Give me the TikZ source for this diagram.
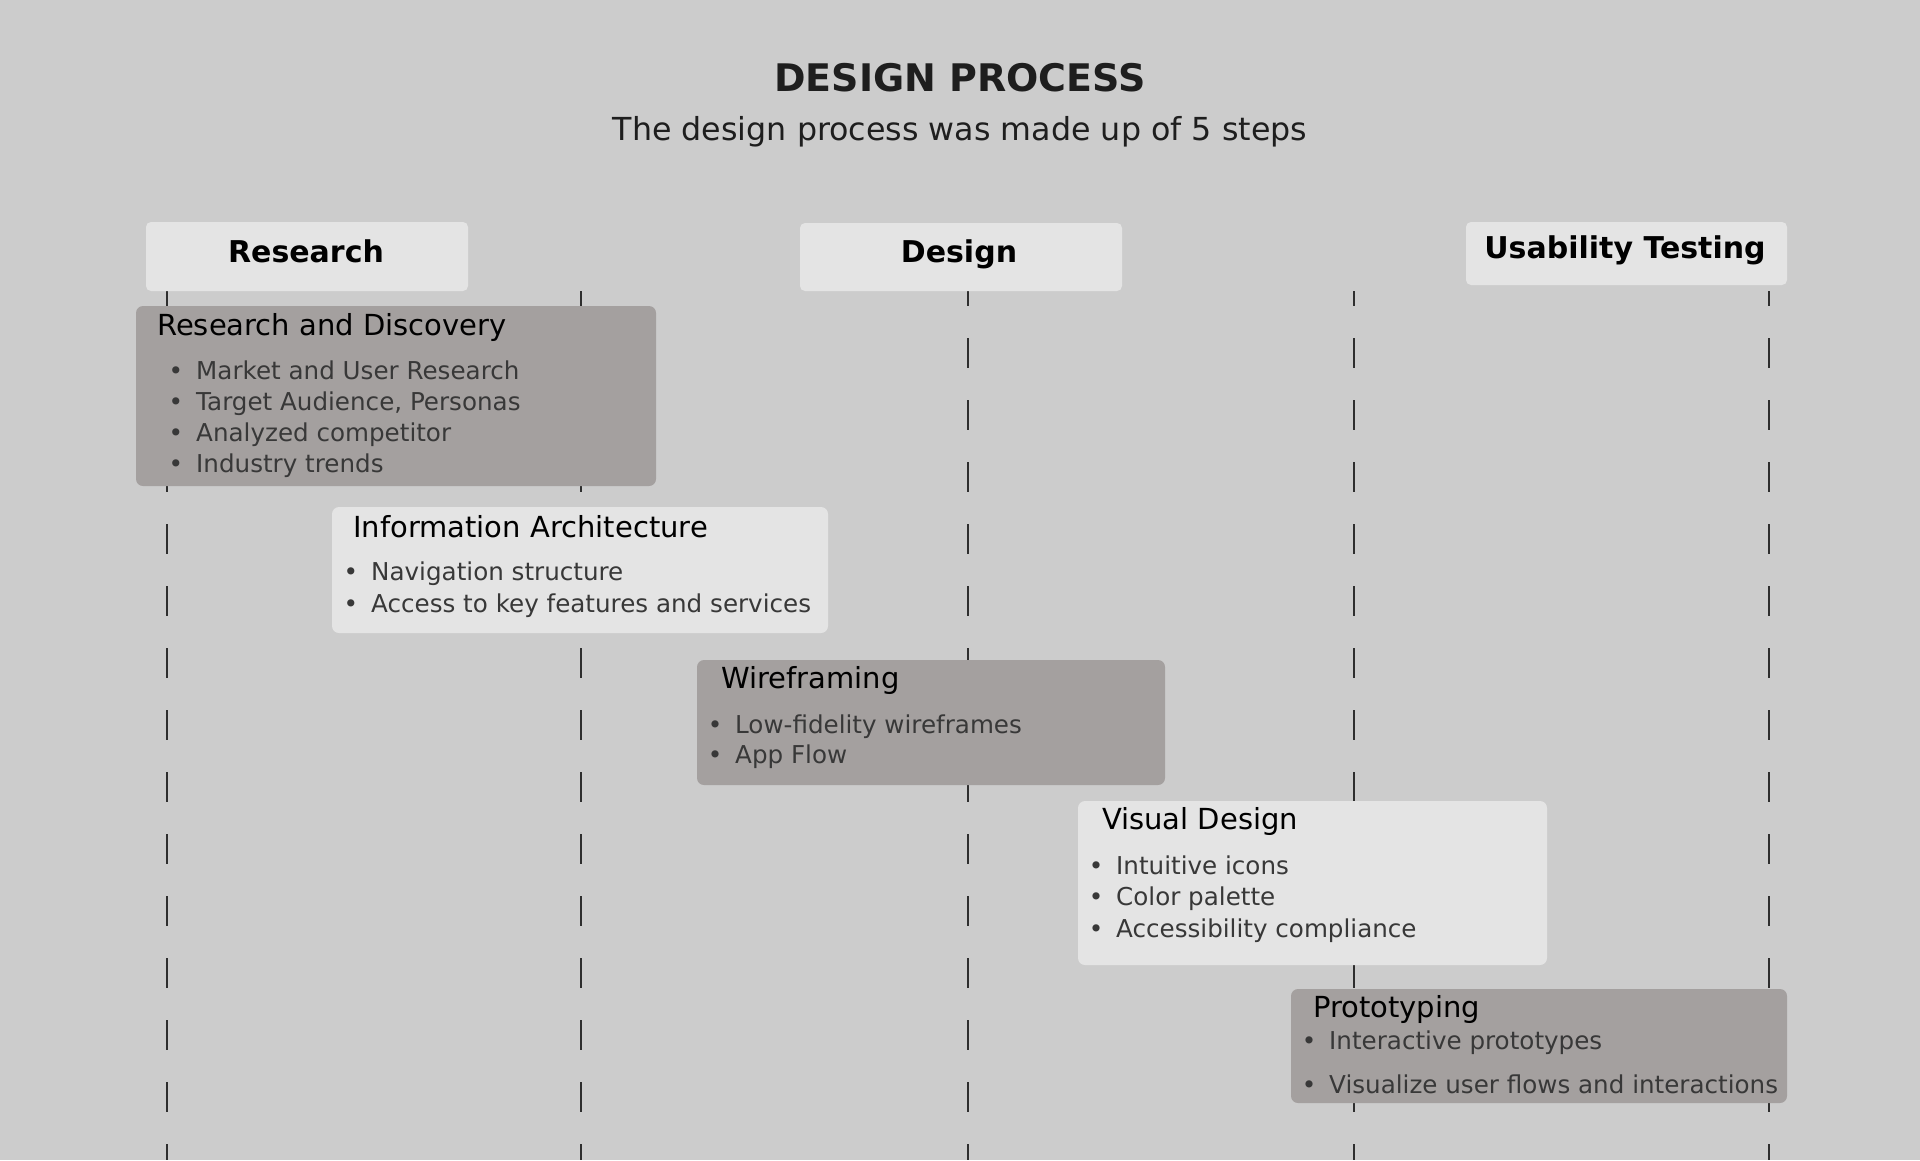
\documentclass[tikz,border=0pt]{standalone}
\usepackage{fontspec}
\setmainfont{DejaVu Sans}
\definecolor{bg}{HTML}{CCCCCC}
\definecolor{lite}{HTML}{E4E4E4}
\definecolor{dark}{HTML}{A4A09F}
\definecolor{ink}{HTML}{1E1E1E}
\definecolor{bul}{HTML}{383838}
\definecolor{dline}{HTML}{2E2E2E}
\begin{document}
\begin{tikzpicture}[x=1pt,y=-1pt,
  dashline/.style={draw=dline, line width=2pt, dash pattern=on 30pt off 32pt, dash phase=15pt},
  hdrbox/.style={fill=lite, rounded corners=5pt, inner sep=0pt},
  litebox/.style={fill=lite, rounded corners=7pt, inner sep=0pt},
  darkbox/.style={fill=dark, rounded corners=7pt, inner sep=0pt},
  hdrtext/.style={text=black, font=\fontsize{30}{34}\selectfont\bfseries, anchor=base, inner sep=0pt},
  boxtitle/.style={text=black, font=\fontsize{29}{33}\selectfont, anchor=base west, inner sep=0pt},
  bultext/.style={text=bul, font=\fontsize{24.6}{29}\selectfont, anchor=base west, inner sep=0pt},
  buldot/.style={text=bul, font=\fontsize{24.6}{29}\selectfont, anchor=base, inner sep=0pt}
]
\useasboundingbox[fill=bg] (0,0) rectangle (1920,1160);

% title
\node[text=ink, font=\fontsize{38}{44}\selectfont\bfseries, anchor=base, inner sep=0pt] (title) at (960,91.5) {DESIGN PROCESS};
\node[text=ink, font=\fontsize{31.7}{36}\selectfont, anchor=base, inner sep=0pt] (sub) at (960,140.5) {The design process was made up of 5 steps};

% dashed lines
\foreach \i/\x in {1/166.5,2/580.5,3/967.5,4/1354,5/1768.5}{
  \coordinate (t\i) at (\x,291);
  \coordinate (b\i) at (\x,1160);
  \draw[dashline] (t\i) -- (b\i);
}

% headers
\node[hdrbox, minimum width=322pt, minimum height=69pt] (hR) at (307,256.5) {};
\node[hdrtext] (hRt) at (306,262) {Research};
\node[hdrbox, minimum width=322pt, minimum height=68pt] (hD) at (961,257) {};
\node[hdrtext] (hDt) at (959,262) {Design};
\node[hdrbox, minimum width=321pt, minimum height=63pt] (hU) at (1626.5,253.5) {};
\node[hdrtext] (hUt) at (1625,258) {Usability Testing};

% box 1
\node[darkbox, minimum width=520pt, minimum height=180pt] (s1) at (396,396) {};
\node[boxtitle] (s1t) at (157,335) {Research and Discovery};
\foreach \j/\y/\t in {a/379/Market and User Research, b/410/{Target Audience, Personas}, c/441/Analyzed competitor, d/472/Industry trends}{
  \node[buldot] (s1\j d) at (176,\y) {•};
  \node[bultext] (s1\j) at (196,\y) {\t};
}

% box 2
\node[litebox, minimum width=496pt, minimum height=126pt] (s2) at (580,570) {};
\node[boxtitle] (s2t) at (353,537) {Information Architecture};
\foreach \j/\y/\t in {a/580/Navigation structure, b/612/Access to key features and services}{
  \node[buldot] (s2\j d) at (351,\y) {•};
  \node[bultext] (s2\j) at (371,\y) {\t};
}

% box 3
\node[darkbox, minimum width=468pt, minimum height=125pt] (s3) at (931,722.5) {};
\node[boxtitle] (s3t) at (721,688) {Wireframing};
\foreach \j/\y/\t in {a/733/Low-fidelity wireframes, b/763/App Flow}{
  \node[buldot] (s3\j d) at (715,\y) {•};
  \node[bultext] (s3\j) at (735,\y) {\t};
}

% box 4
\node[litebox, minimum width=469pt, minimum height=164pt] (s4) at (1312.5,883) {};
\node[boxtitle] (s4t) at (1102,829) {Visual Design};
\foreach \j/\y/\t in {a/874/Intuitive icons, b/905/Color palette, c/937/Accessibility compliance}{
  \node[buldot] (s4\j d) at (1096,\y) {•};
  \node[bultext] (s4\j) at (1116,\y) {\t};
}

% box 5
\node[darkbox, minimum width=496pt, minimum height=114pt] (s5) at (1539,1046) {};
\node[boxtitle] (s5t) at (1313,1017) {Prototyping};
\foreach \j/\y/\t in {a/1049/Interactive prototypes, b/1093/Visualize user flows and interactions}{
  \node[buldot] (s5\j d) at (1309,\y) {•};
  \node[bultext] (s5\j) at (1329,\y) {\t};
}
\end{tikzpicture}
\end{document}
